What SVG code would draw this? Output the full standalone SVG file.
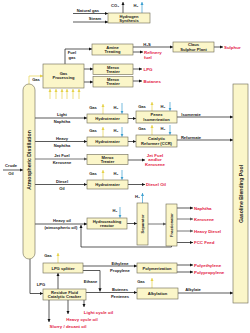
<svg xmlns="http://www.w3.org/2000/svg" width="250" height="333" viewBox="0 0 250 333">
<defs>
<style>
.b{fill:#fbf6c9;stroke:#6a6750;stroke-width:0.6}
.t{font-family:"Liberation Sans",Arial,sans-serif;font-size:4.1px;fill:#1a1a1a;text-anchor:middle;font-weight:bold}
.r{font-family:"Liberation Sans",Arial,sans-serif;font-size:4.4px;fill:#e3173f;font-weight:bold}
.l{fill:none;stroke:#111;stroke-width:0.7}
.g{fill:none;stroke:#777;stroke-width:1}
.y{fill:none;stroke:#e6d24a;stroke-width:0.7}
.u{fill:none;stroke:#3b9fd0;stroke-width:0.7}
</style>
<marker id="ab" viewBox="0 0 6 6" refX="6" refY="3" markerWidth="3.2" markerHeight="3.2" markerUnits="userSpaceOnUse" orient="auto"><path d="M0,0L6,3L0,6z" fill="#111"/></marker>
<marker id="ag" viewBox="0 0 6 6" refX="6" refY="3" markerWidth="3.2" markerHeight="3.2" markerUnits="userSpaceOnUse" orient="auto"><path d="M0,0L6,3L0,6z" fill="#555"/></marker>
<marker id="ay" viewBox="0 0 6 6" refX="6" refY="3" markerWidth="3.2" markerHeight="3.2" markerUnits="userSpaceOnUse" orient="auto"><path d="M0,0L6,3L0,6z" fill="#e6d24a"/></marker>
<marker id="au" viewBox="0 0 6 6" refX="6" refY="3" markerWidth="3.2" markerHeight="3.2" markerUnits="userSpaceOnUse" orient="auto"><path d="M0,0L6,3L0,6z" fill="#3b9fd0"/></marker>
</defs>
<rect width="250" height="333" fill="#fff"/>

<g id="connectors">
<path class="l" d="M73,13.5H108" marker-end="url(#ab)"/>
<path class="l" d="M73,22H108" marker-end="url(#ab)"/>
<path class="l" d="M123,13V2" marker-end="url(#ab)"/>
<path class="u" d="M142,13V2" marker-end="url(#au)"/>
<path class="l" d="M65,64V49H92" marker-end="url(#ab)"/>
<path class="l" d="M133,47H173" marker-end="url(#ab)"/>
<path class="l" d="M214,47H223" marker-end="url(#ab)"/>
<path class="l" d="M133,52H143" marker-end="url(#ab)"/>
<path class="l" d="M84,69H93" marker-end="url(#ab)"/>
<path class="l" d="M84,82H93" marker-end="url(#ab)"/>
<path class="l" d="M133,69H142" marker-end="url(#ab)"/>
<path class="l" d="M133,81H142" marker-end="url(#ab)"/>
<path class="y" d="M29,84V76H43" marker-end="url(#ay)"/>
<path class="y" d="M50,99V89" marker-end="url(#ay)"/>
<path class="y" d="M56,99V89" marker-end="url(#ay)"/>
<path class="y" d="M62,99V89" marker-end="url(#ay)"/>
<path class="y" d="M67,99V89" marker-end="url(#ay)"/>
<path class="y" d="M73,99V89" marker-end="url(#ay)"/>
<path class="y" d="M79,99V89" marker-end="url(#ay)"/>
<path class="l" d="M3,170H23" marker-end="url(#ab)"/>
<path class="l" d="M35,118H87" marker-end="url(#ab)"/>
<path class="y" d="M103,114V104" marker-end="url(#ay)"/>
<path class="u" d="M122,103V113.7" marker-end="url(#au)"/>
<path class="l" d="M128,118.5H136" marker-end="url(#ab)"/>
<path class="y" d="M152,111V102" marker-end="url(#ay)"/>
<path class="u" d="M170,102V110.7" marker-end="url(#au)"/>
<path class="l" d="M177,117H233" marker-end="url(#ab)"/>
<path class="l" d="M35,141.5H87" marker-end="url(#ab)"/>
<path class="y" d="M103,137V127" marker-end="url(#ay)"/>
<path class="u" d="M122,127V136.7" marker-end="url(#au)"/>
<path class="l" d="M128,141.5H136" marker-end="url(#ab)"/>
<path class="y" d="M152,135V125" marker-end="url(#ay)"/>
<path class="u" d="M170,125V134.7" marker-end="url(#au)"/>
<path class="l" d="M177,140H233" marker-end="url(#ab)"/>
<path class="g" d="M35,159H87" marker-end="url(#ag)"/>
<path class="l" d="M128,160H145" marker-end="url(#ab)"/>
<path class="l" d="M35,184.5H87" marker-end="url(#ab)"/>
<path class="y" d="M103,180V170" marker-end="url(#ay)"/>
<path class="u" d="M122,170V179.7" marker-end="url(#au)"/>
<path class="l" d="M128,184.5H145" marker-end="url(#ab)"/>
<path class="l" d="M35,224H87" marker-end="url(#ab)"/>
<path class="u" d="M120,207V217.7" marker-end="url(#au)"/>
<path class="l" d="M127,223.5H137" marker-end="url(#ab)"/>
<path class="u" d="M142.5,203V193" marker-end="url(#au)"/>
<path class="g" d="M148,224H166" marker-end="url(#ag)"/>
<path class="l" d="M177,208H193" marker-end="url(#ab)"/>
<path class="g" d="M177,219H193" marker-end="url(#ag)"/>
<path class="g" d="M177,231H193" marker-end="url(#ag)"/>
<path class="l" d="M177,242.5H193" marker-end="url(#ab)"/>
<path class="l" d="M171.5,246V247H81V225" marker-end="url(#ab)"/>
<path class="y" d="M58,263V253" marker-end="url(#ay)"/>
<path class="l" d="M30,259V293.5H43" marker-end="url(#ab)"/>
<path class="l" d="M58,289V273" marker-end="url(#ab)"/>
<path class="l" d="M49,300V322" marker-end="url(#ab)"/>
<path class="l" d="M68,300V314" marker-end="url(#ab)"/>
<path class="l" d="M84,300V307" marker-end="url(#ab)"/>
<path class="l" d="M83,266H137" marker-end="url(#ab)"/>
<path class="l" d="M83,270.5H100V291.5" marker-end="url(#ab)"/>
<path class="l" d="M86,292.5H137" marker-end="url(#ab)"/>
<path class="l" d="M177,265H193" marker-end="url(#ab)"/>
<path class="l" d="M177,272H193" marker-end="url(#ab)"/>
<path class="y" d="M152,288V278" marker-end="url(#ay)"/>
<path class="l" d="M178,293H233" marker-end="url(#ab)"/>
</g>

<g id="labels">
<text class="t" x="88" y="11.5">Natural gas</text>
<text class="t" x="95" y="20">Steam</text>
<text class="t" x="115" y="7">CO₂</text>
<text class="t" x="136" y="7">H₂</text>
<text class="t" x="72" y="54">Fuel</text>
<text class="t" x="72" y="58.5">gas</text>
<text class="t" x="147" y="45.5">H₂S</text>
<text class="r" x="224" y="48.6">Sulphur</text>
<text class="r" x="144" y="53.5">Refinery</text>
<text class="r" x="144" y="58.5">fuel</text>
<text class="r" x="143.5" y="70.6">LPG</text>
<text class="r" x="143.5" y="82.6">Butanes</text>
<text class="t" x="36" y="80.5">Gas</text>
<text class="t" x="11" y="167">Crude</text>
<text class="t" x="11" y="175">Oil</text>
<text class="t" x="62" y="116">Light</text>
<text class="t" x="62" y="122.8">Naphtha</text>
<text class="t" x="93" y="108.5">Gas</text>
<text class="t" x="116" y="108.5">H₂</text>
<text class="t" x="142" y="107.5">Gas</text>
<text class="t" x="163" y="107.5">H₂</text>
<text class="t" x="191" y="115.5">Isomerate</text>
<text class="t" x="62" y="139.5">Heavy</text>
<text class="t" x="62" y="146.5">Naphtha</text>
<text class="t" x="93" y="131.5">Gas</text>
<text class="t" x="116" y="131.5">H₂</text>
<text class="t" x="142" y="130">Gas</text>
<text class="t" x="163" y="130">H₂</text>
<text class="t" x="191" y="138.5">Reformate</text>
<text class="t" x="62" y="157">Jet Fuel</text>
<text class="t" x="62" y="164">Kerosene</text>
<text class="r" x="155" y="156.5" text-anchor="middle">Jet Fuel</text>
<text class="r" x="155" y="161" text-anchor="middle">and/or</text>
<text class="r" x="155" y="165.5" text-anchor="middle">Kerosene</text>
<text class="t" x="62" y="182.5">Diesel</text>
<text class="t" x="62" y="189.5">Oil</text>
<text class="t" x="93" y="174.5">Gas</text>
<text class="t" x="116" y="174.5">H₂</text>
<text class="r" x="146" y="186">Diesel Oil</text>
<text class="t" x="62" y="222">Heavy oil</text>
<text class="t" x="61" y="229">(atmospheric oil)</text>
<text class="t" x="115" y="211.5">H₂</text>
<text class="t" x="137.5" y="198">H₂</text>
<text class="r" x="194" y="209.6">Naphtha</text>
<text class="r" x="194" y="220.6">Kerosene</text>
<text class="r" x="194" y="232.6">Heavy Diesel</text>
<text class="r" x="194" y="244">FCC Feed</text>
<text class="t" x="48" y="257">Gas</text>
<text class="t" x="41" y="285.5">LPG</text>
<text class="r" x="98.5" y="314" text-anchor="middle">Light cycle oil</text>
<text class="r" x="82" y="321" text-anchor="middle">Heavy cycle oil</text>
<text class="r" x="68" y="328" text-anchor="middle">Slurry / decant oil</text>
<text class="t" x="120" y="264.5">Ethylene</text>
<text class="t" x="120" y="271.5">Propylene</text>
<text class="t" x="90.5" y="282.5">Ethane</text>
<text class="t" x="120" y="291">Butenes</text>
<text class="t" x="120" y="297.5">Pentenes</text>
<text class="r" x="194" y="266.6">Polyethylene</text>
<text class="r" x="194" y="273.8">Polypropylene</text>
<text class="t" x="141" y="283">Gas</text>
<text class="t" x="193" y="291.3">Alkylate</text>
</g>

<g id="hydrogen-synthesis"><rect class="b" x="108" y="13" width="42" height="10"/><text class="t" x="129" y="17.6">Hydrogen</text><text class="t" x="129" y="21.8">Synthesis</text></g>
<g id="amine-treating"><rect class="b" x="92" y="44" width="41" height="11"/><text class="t" x="112.5" y="48.6">Amine</text><text class="t" x="112.5" y="53">Treating</text></g>
<g id="claus"><rect class="b" x="173" y="42" width="41" height="10"/><text class="t" x="193.5" y="46.2">Claus</text><text class="t" x="193.5" y="50.6">Sulphur Plant</text></g>
<g id="gas-processing"><rect class="b" x="43" y="64" width="41" height="24"/><text class="t" x="63.5" y="74.5">Gas</text><text class="t" x="63.5" y="79">Processing</text></g>
<g id="merox1"><rect class="b" x="93" y="64" width="40" height="10.5"/><text class="t" x="113" y="68.5">Merox</text><text class="t" x="113" y="72.9">Treater</text></g>
<g id="merox2"><rect class="b" x="93" y="76.5" width="40" height="10.5"/><text class="t" x="113" y="81">Merox</text><text class="t" x="113" y="85.4">Treater</text></g>
<g id="distillation"><rect class="b" x="23" y="84" width="12" height="175" rx="6"/><text class="t" transform="translate(30.8,160) rotate(-90)" style="font-size:5.2px">Atmospheric Distillation</text></g>
<g id="hydrotreater1"><rect class="b" x="87" y="114" width="41" height="9"/><text class="t" x="107.5" y="120">Hydrotreater</text></g>
<g id="penex"><rect class="b" x="136" y="111" width="41" height="12"/><text class="t" x="156.5" y="116">Penex</text><text class="t" x="156.5" y="120.5">Isomerization</text></g>
<g id="hydrotreater2"><rect class="b" x="87" y="137" width="41" height="9"/><text class="t" x="107.5" y="143">Hydrotreater</text></g>
<g id="ccr"><rect class="b" x="136" y="135" width="41" height="12"/><text class="t" x="156.5" y="140">Catalytic</text><text class="t" x="156.5" y="144.5">Reformer (CCR)</text></g>
<g id="merox3"><rect class="b" x="87" y="154.5" width="41" height="10"/><text class="t" x="107.5" y="158.8">Merox</text><text class="t" x="107.5" y="163.1">Treater</text></g>
<g id="hydrotreater3"><rect class="b" x="87" y="180" width="41" height="9"/><text class="t" x="107.5" y="186">Hydrotreater</text></g>
<g id="hydrocracking"><rect class="b" x="87" y="218" width="40" height="11"/><text class="t" x="107" y="222.5">Hydrocracking</text><text class="t" x="107" y="227">reactor</text></g>
<g id="separator"><rect class="b" x="137" y="203" width="11" height="42"/><text class="t" transform="translate(144,224) rotate(-90)">Separator</text></g>
<g id="fractionator"><rect class="b" x="166" y="204" width="11" height="42"/><text class="t" transform="translate(173,225) rotate(-90)">Fractionator</text></g>
<g id="lpg-splitter"><rect class="b" x="43" y="263" width="40" height="10"/><text class="t" x="63" y="269.5">LPG splitter</text></g>
<g id="rfcc"><rect class="b" x="43" y="289" width="43" height="11"/><text class="t" x="64.5" y="293.5">Residue Fluid</text><text class="t" x="64.5" y="298">Catalytic Cracker</text></g>
<g id="polymerization"><rect class="b" x="137" y="263" width="40" height="10"/><text class="t" x="157" y="269.5">Polymerization</text></g>
<g id="alkylation"><rect class="b" x="137" y="288" width="41" height="11"/><text class="t" x="157.5" y="295">Alkylation</text></g>
<g id="blending-pool"><rect class="b" x="233" y="84" width="15" height="219"/><text class="t" transform="translate(242.5,194) rotate(-90)" style="font-size:5.2px">Gasoline Blending Pool</text></g>
</svg>
